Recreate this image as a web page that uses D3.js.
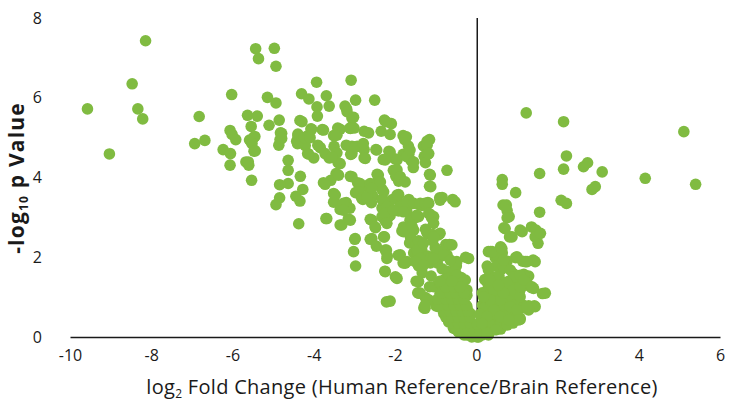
<!DOCTYPE html>
<html>
<head>
<meta charset="utf-8">
<script src="https://cdn.jsdelivr.net/npm/d3@7"></script>
<style>
  body { margin: 0; background: #fff; }
  text { font-family: "Open Sans", "DejaVu Sans", sans-serif; fill: #1a1a1a; }
  .tick text { font-size: 16px; }
  .xtitle { font-size: 20px; letter-spacing: 0.3px; }
  .ytitle { font-size: 21px; font-weight: bold; letter-spacing: 1.2px; }
</style>
</head>
<body>
<svg class="chart"></svg>
<script>
// tick values
var xTicks = [-10, -8, -6, -4, -2, 0, 2, 4, 6];
var yTicks = [0, 2, 4, 6, 8];

// points: [log2 fold change, -log10 p]
var outliers = [[-9.57,5.72],[-9.03,4.59],[-8.47,6.35],[-8.33,5.72],[-8.21,5.47],[-8.14,7.43]];

var leftUpper = [[-6.93,4.85],[-6.68,4.93],[-6.82,5.53],[-6.02,6.08],[-6.23,4.70],[-6.06,5.18],[-6.01,5.08],
  [-5.92,4.95],[-6.05,4.60],[-6.06,4.31],[-5.63,5.56],[-5.39,5.54],[-5.54,5.28],[-5.45,5.03],[-5.55,4.91],
  [-5.47,4.66],[-5.67,4.39],[-5.60,4.31],[-5.53,3.93],[-5.43,7.23],[-5.36,6.98],[-4.97,7.24],[-4.93,6.79],
  [-5.14,6.01],[-4.93,5.87],[-5.10,5.31],[-4.85,5.44],[-4.82,5.12],[-4.83,4.95],[-4.86,4.81],[-4.63,4.43],
  [-4.63,4.18],[-4.63,3.85],[-4.84,3.82],[-4.84,3.49],[-4.93,3.32],[-4.44,3.53],[-4.34,3.41],[-4.27,3.70],
  [-4.33,4.03],[-4.37,2.84],[-4.30,6.10],[-4.12,5.97],[-4.34,5.43],[-4.39,5.09],[-4.42,4.91],[-4.16,5.04],
  [-4.07,5.22],[-4.21,4.80],[-4.15,4.60],[-4.00,4.49],[-3.93,6.39],[-3.69,6.05],[-3.92,5.77],[-3.91,5.54],
  [-3.79,5.20],[-3.90,4.81],[-3.62,5.79],[-3.51,5.05],[-3.41,5.24],[-3.50,4.78],[-3.43,4.62],[-3.62,4.49],
  [-3.40,4.37],[-3.45,4.10],[-3.76,3.87],[-3.58,3.93],[-3.51,3.60],[-3.51,3.38],[-3.70,2.97],[-3.35,2.81],
  [-3.35,3.20],[-5.58,4.94],[-5.48,5.00],[-5.52,4.85],[-5.44,4.67],[-5.61,4.39],[-4.79,5.11],[-4.79,4.98],
  [-4.39,5.04],[-4.40,4.85],[-4.23,5.00],[-4.09,5.00],[-4.05,5.21],[-3.76,5.19],[-4.13,4.59],[-3.84,4.75],
  [-3.43,5.06],[-3.35,5.21],[-3.58,4.50],[-3.35,4.35],[-3.39,4.06],[-3.72,3.83],[-4.29,5.40],[-3.47,5.06],
  [-3.72,4.60],[-3.55,4.52],[-3.47,3.56],[-3.68,2.97]];

var leftMiddle = [[-3.20,3.37],[-3.15,2.96],[-3.11,3.23],[-3.08,6.44],[-3.23,5.79],[-3.19,5.72],[-3.06,5.49],
  [-3.11,5.24],[-3.01,5.24],[-2.97,5.94],[-3.20,4.81],[-3.06,4.78],[-3.09,4.58],[-3.10,4.03],[-2.93,4.78],
  [-2.92,3.87],[-2.97,3.62],[-2.79,3.45],[-2.76,5.16],[-2.65,5.12],[-2.76,4.70],[-2.76,4.49],[-2.71,3.79],
  [-2.68,3.54],[-2.50,5.94],[-2.47,4.70],[-2.44,4.08],[-2.45,3.87],[-2.55,3.54],[-2.58,3.37],[-2.61,2.95],
  [-2.48,2.74],[-2.34,5.16],[-2.26,5.44],[-2.09,5.35],[-2.12,5.08],[-2.15,4.66],[-2.29,4.45],[-2.01,4.47],
  [-2.04,4.18],[-1.98,4.03],[-1.91,3.91],[-2.32,3.70],[-2.32,3.45],[-2.06,3.45],[-2.32,3.24],[-2.18,3.11],
  [-2.30,3.01],[-2.24,2.91],[-2.12,3.05],[-1.91,3.57],[-1.85,3.32],[-1.91,3.16],[-1.80,5.05],[-1.76,4.95],
  [-1.67,4.79],[-1.80,4.58],[-1.66,4.58],[-1.60,4.42],[-1.55,4.25],[-1.66,3.45],[-1.71,3.16],[-1.57,3.35],
  [-1.40,3.32],[-1.48,3.03],[-1.30,4.79],[-1.21,4.91],[-1.15,4.95],[-1.28,4.53],[-1.20,4.58],[-1.25,4.37],
  [-1.15,4.08],[-1.15,3.78],[-1.19,3.37],[-1.33,3.30],[-1.13,3.07],[-1.10,2.99],[-0.72,4.18],[-0.90,3.49],
  [-0.58,3.45],[-3.10,5.23],[-3.18,5.65],[-3.02,5.51],[-2.22,5.40],[-1.72,5.02],[-1.21,4.81],[-1.17,4.60],
  [-3.06,4.60],[-2.98,4.77],[-2.78,4.85],[-2.73,4.48],[-2.45,4.69],[-2.12,4.64],[-2.24,4.44],[-1.95,4.44],
  [-1.71,4.52],[-1.63,4.69],[-1.54,4.39],[-1.95,4.19],[-1.87,4.02],[-1.75,3.89],[-1.13,4.06],[-1.12,3.77],
  [-0.84,3.50],[-3.06,4.02],[-2.86,3.85],[-2.61,3.85],[-2.41,4.06],[-2.36,3.89],[-3.27,3.35],[-3.27,3.18],
  [-2.90,3.64],[-2.82,3.48],[-2.69,3.52],[-2.57,3.73],[-2.28,3.64],[-2.28,3.43],[-2.20,3.27],[-2.32,3.02],
  [-2.16,3.02],[-1.95,3.56],[-1.87,3.27],[-1.71,3.39],[-1.54,3.35],[-1.38,3.35],[-1.26,3.35],[-3.31,2.81],
  [-3.10,2.93],[-2.57,2.93],[-2.49,2.76],[-1.79,2.76],[-1.63,2.93],[-1.54,2.68],[-1.42,3.02],[-1.21,2.60],
  [-1.05,3.02],[-0.93,2.56],[-2.98,2.47],[-2.57,2.47],[-2.28,2.51]];

var leftLower = [[-2.99,2.45],[-3.02,2.14],[-2.97,1.78],[-2.61,2.45],[-2.46,2.28],[-2.26,2.51],[-2.21,2.18],
  [-2.19,2.03],[-2.25,1.65],[-1.99,1.51],[-2.21,0.88],[-2.12,0.90],[-1.92,2.05],[-1.80,1.86],[-1.83,2.66],
  [-1.69,2.70],[-1.62,2.51],[-1.64,2.36],[-1.50,2.99],[-1.59,2.78],[-1.48,2.32],[-1.54,2.11],[-1.48,1.95],
  [-1.42,1.78],[-1.48,1.40],[-1.44,1.11],[-1.33,1.61],[-1.42,2.41],[-1.34,2.18],[-1.25,2.70],[-1.19,2.03],
  [-1.13,1.86],[-1.07,2.57],[-1.07,2.41],[-1.01,2.24],[-1.11,1.53],[-1.25,0.99],[-1.29,0.73],[-1.15,1.26],
  [-0.96,1.86],[-0.87,2.03],[-0.80,2.11],[-0.75,2.32],[-0.66,2.32],[-0.84,1.71],[-0.72,1.65],[-0.78,1.44],
  [-0.96,1.28],[-0.99,0.78],[-0.55,1.86],[-0.49,1.78],[-0.26,2.00],[-0.37,1.49],[-0.55,1.28],[-0.37,1.19],
  [-1.17,3.35],[-0.89,3.43],[-0.52,3.39],[-2.24,3.10],[-2.04,3.18],[-1.79,3.14],[-1.46,3.06],[-1.17,3.10],
  [-2.20,2.85],[-1.79,2.64],[-1.58,2.76],[-1.05,2.85],[-0.89,2.60],[-1.05,2.51],[-2.24,2.18],[-2.20,1.97],
  [-2.24,1.64],[-1.95,1.47],[-1.87,2.06],[-1.71,1.89],[-1.46,2.18],[-1.30,2.35],[-1.38,1.97],[-1.13,1.97],
  [-0.97,2.18],[-0.60,2.31],[-0.72,2.06],[-0.48,1.89],[-0.19,1.97],[-0.52,1.64],[-0.27,1.43],[-0.23,1.18],
  [-1.42,1.10],[-1.26,0.72],[-1.17,0.93],[-1.75,1.85],[-1.50,1.89],[-1.30,1.80],[-1.05,1.97],[-0.80,2.06],
  [-0.64,1.93],[-1.42,1.39],[-1.38,1.10],[-1.21,0.93],[-1.26,0.80],[-1.05,1.26],[-0.89,1.35],[-0.68,1.47],
  [-0.48,1.55],[-0.35,1.35],[-0.27,1.18],[-0.23,1.05],[-0.93,0.76],[-0.80,0.59],[-0.68,0.38],[-0.56,0.22],
  [-0.44,0.13],[-0.23,0.05],[-0.11,0.00],[0.02,0.00],[-0.72,1.10],[-0.56,0.93],[-0.48,0.72],[-0.35,0.55],
  [-0.23,0.43],[-0.11,0.30],[-0.64,1.35],[-0.89,1.10],[-0.39,1.10],[-0.23,0.76],[-0.15,0.59]];

var centerBlob = [[-0.30,0.05],[-0.15,0.05],[0.00,0.05],[0.15,0.05],[0.30,0.05],
  [-0.50,0.20],[-0.35,0.20],[-0.20,0.20],[-0.05,0.20],[0.10,0.20],[0.25,0.20],[0.45,0.20],[0.60,0.20],
  [-0.60,0.35],[-0.45,0.35],[-0.30,0.35],[-0.15,0.35],[0.15,0.35],[0.30,0.35],[0.50,0.35],[0.70,0.35],[0.90,0.35],
  [-0.75,0.50],[-0.60,0.50],[-0.45,0.50],[-0.30,0.50],[-0.15,0.50],[0.20,0.50],[0.35,0.50],[0.55,0.50],[0.75,0.50],[0.95,0.50],
  [-0.80,0.65],[-0.65,0.65],[-0.50,0.65],[-0.35,0.65],[-0.20,0.65],[0.20,0.65],[0.40,0.65],[0.60,0.65],[0.80,0.65],[1.00,0.65],
  [-0.90,0.80],[-0.70,0.80],[-0.55,0.80],[-0.40,0.80],[-0.25,0.80],[0.15,0.80],[0.35,0.80],[0.55,0.80],[0.75,0.80],[0.95,0.80],[1.15,0.80],
  [-0.95,0.95],[-0.75,0.95],[-0.60,0.95],[-0.45,0.95],[-0.30,0.95],[0.20,0.95],[0.40,0.95],[0.60,0.95],[0.80,0.95],[1.00,0.95],
  [-0.85,1.10],[-0.65,1.10],[-0.50,1.10],[-0.30,1.10],[0.25,1.10],[0.45,1.10],[0.65,1.10],[0.85,1.10],[1.05,1.10],
  [-0.75,1.25],[-0.55,1.25],[-0.40,1.25],[0.30,1.25],[0.50,1.25],[0.70,1.25],[0.90,1.25],
  [-0.90,1.40],[-0.60,1.40],[0.35,1.40],[0.60,1.40],[0.80,1.40]];

var rightLower = [[0.35,2.14],[0.60,2.26],[0.64,2.11],[0.47,1.99],[0.27,1.78],[0.21,1.44],[0.50,1.78],
  [0.56,1.53],[0.62,1.70],[0.76,1.90],[0.97,1.99],[1.14,1.90],[1.40,1.93],[0.91,1.59],[1.06,1.46],[1.17,1.57],
  [1.29,1.53],[1.36,1.24],[1.63,1.09],[1.22,1.30],[1.08,1.19],[0.94,1.11],[0.79,1.28],[0.50,1.36],[0.38,1.19],
  [0.15,1.11],[0.27,0.90],[0.44,0.94],[0.62,0.99],[0.83,0.90],[0.97,0.82],[1.14,0.73],[1.29,0.78],[1.43,0.78],
  [1.08,0.44],[0.83,0.40],[0.73,0.57],[0.56,0.65],[0.38,0.57],[0.21,0.73],[0.15,0.44],[0.33,0.32],[0.50,0.19],
  [0.27,0.11],[0.09,0.15],[0.06,0.00],[0.62,0.36],[0.97,0.57],[0.68,0.82],[0.38,0.82],[0.09,0.57],[0.03,0.32],
  [0.30,2.14],[0.51,2.06],[1.00,2.01],[1.21,1.89],[1.45,1.89],[0.30,1.68],[0.26,1.39],[0.47,1.51],[0.67,1.76],
  [0.84,1.68],[0.92,1.51],[1.17,1.55],[1.25,1.35],[1.41,1.22],[1.70,1.10],[1.45,0.76],[1.29,0.68],[1.08,0.47],
  [0.76,0.30],[0.47,0.18],[0.26,0.09],[0.43,1.18],[0.59,1.26],[0.76,1.35],[0.92,1.18],[1.08,1.01],[0.59,0.93],
  [0.84,0.76],[1.00,0.68],[0.43,0.68],[0.59,0.51],[0.26,0.51],[0.34,0.93],[0.67,1.10],[1.08,1.26],[0.18,1.01],
  [0.14,0.34],[0.39,2.14],[0.63,2.22],[0.67,1.93],[1.25,1.89],[0.34,1.43],[0.55,1.30],[1.08,1.55],[1.17,1.43],
  [1.37,1.26],[1.25,0.76],[1.04,0.43],[0.80,0.43]];

var rightUpper = [[0.64,3.95],[0.64,3.83],[0.97,3.62],[0.66,3.31],[0.74,3.31],[0.76,3.17],[0.81,3.02],
  [0.76,2.99],[0.68,2.74],[1.08,2.68],[0.82,2.51],[0.71,2.72],[0.88,2.51],[1.13,2.64],[1.23,5.62],[1.36,2.76],
  [1.47,2.68],[1.45,2.51],[1.52,2.35],[1.58,2.60],[1.56,3.13],[1.56,4.10],[2.15,5.40],[2.22,4.54],[2.15,4.21],
  [2.09,3.43],[2.22,3.35],[2.64,4.27],[2.74,4.37],[2.85,3.70],[2.93,3.77],[3.10,4.14],[4.16,3.98],[5.11,5.15],
  [5.40,3.83]];

var allPoints = [].concat(outliers, leftUpper, leftMiddle, leftLower, centerBlob, rightLower, rightUpper);

var width = 744, height = 401;
var svg = d3.select(".chart").attr("width", width).attr("height", height);

var x = d3.scaleLinear().domain([-10, 6]).range([70, 720]);
var y = d3.scaleLinear().domain([0, 8]).range([337, 18]);

// vertical line at x = 0, under the points
svg.append("line")
    .attr("x1", x(0) + 1).attr("x2", x(0) + 1)
    .attr("y1", y(8)).attr("y2", y(0))
    .attr("stroke", "#1a1a1a")
    .attr("stroke-width", 1.5);

svg.append("g")
    .selectAll("circle")
    .data(allPoints)
    .join("circle")
    .attr("cx", d => x(d[0]))
    .attr("cy", d => y(d[1]))
    .attr("r", 5.8)
    .attr("fill", "#80bb41");

var xAxis = svg.append("g")
    .attr("transform", "translate(0," + y(0) + ")")
    .call(d3.axisBottom(x).tickValues(xTicks).tickSize(0).tickPadding(13).tickFormat(d3.format("d")));
xAxis.select(".domain").attr("stroke", "#1a1a1a").attr("stroke-width", 1.5);

var yAxis = svg.append("g")
    .attr("transform", "translate(70,0)")
    .call(d3.axisLeft(y).tickValues(yTicks).tickSize(0).tickPadding(28));
yAxis.select(".domain").remove();

// the minus sign in the picture is a plain hyphen
svg.selectAll(".tick text").text(function() { return d3.select(this).text().replace("\u2212", "-"); });

var xt = svg.append("text")
    .attr("class", "xtitle")
    .attr("x", 402)
    .attr("y", 394)
    .attr("text-anchor", "middle");
xt.append("tspan").text("log");
xt.append("tspan").attr("font-size", "12px").attr("dy", 4).text("2");
xt.append("tspan").attr("dy", -4).text(" Fold Change (Human Reference/Brain Reference)");

var yt = svg.append("text")
    .attr("class", "ytitle")
    .attr("transform", "translate(24,178) rotate(-90)")
    .attr("text-anchor", "middle");
yt.append("tspan").text("-log");
yt.append("tspan").attr("font-size", "12px").attr("dy", 4).text("10");
yt.append("tspan").attr("dy", -4).text(" p Value");
</script>
</body>
</html>
